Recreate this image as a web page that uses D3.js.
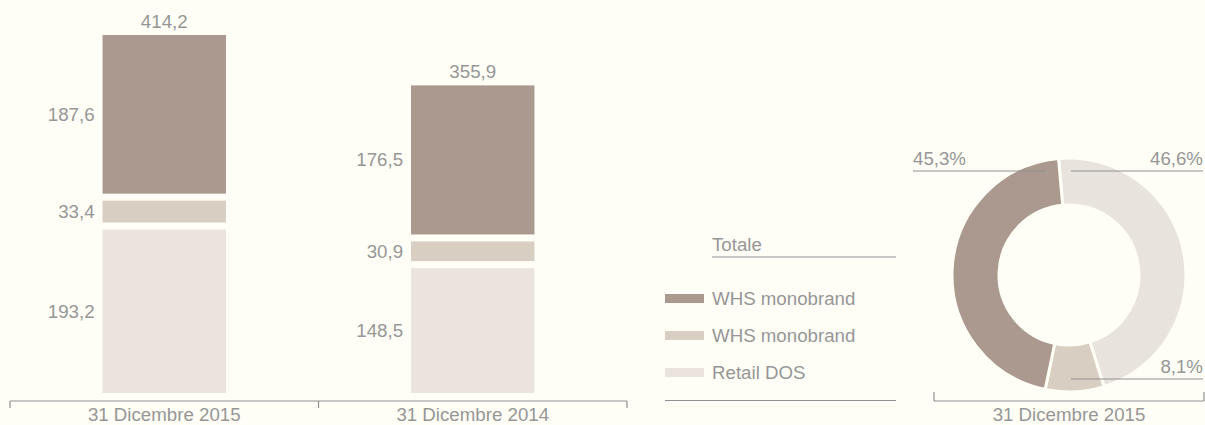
<!DOCTYPE html>
<html>
<head>
<meta charset="utf-8">
<script src="https://cdn.jsdelivr.net/npm/d3@7"></script>
<style>
  html, body { margin: 0; padding: 0; background: #fffef6; }
  svg text { font-family: "Liberation Sans", Arial, sans-serif; fill: #969696; }
</style>
</head>
<body>
<script>
// categories / series
let categories = ['31 Dicembre 2015', '31 Dicembre 2014']
let seriesNames = ['Retail DOS', 'WHS monobrand', 'WHS monobrand']
let retailDos = [193.2, 148.5]
let whsMid = [33.4, 30.9]
let whsTop = [187.6, 176.5]
let totals = [414.2, 355.9]

// donut (31 Dicembre 2015), order clockwise from top
let pieLabels = ['46,6%', '8,1%', '45,3%']
let pieValues = [46.6, 8.1, 45.3]
let pieCategory = '31 Dicembre 2015'

let colors = ['#ebe4dc', '#d8cec1', '#ab988e']
let pieColors = ['#e8e3dd', '#d8cec1', '#ab988e']
let lineColor = '#8f8f8f'
let bg = '#fffef6'

let width = 1205
let height = 425
let fontSize = 18.7

let svg = d3.select('body').append('svg')
  .attr('width', width)
  .attr('height', height)

/* Stacked bars */
let x = d3.scaleBand().domain(categories).range([10, 627])
let y = d3.scaleLinear().domain([0, d3.max(totals)]).range([393, 35])
let barW = x.bandwidth() * 0.4
let gap = 7

let rows = categories.map((c, i) => ({ cat: c, s0: retailDos[i], s1: whsMid[i], s2: whsTop[i], total: totals[i] }))
let stack = d3.stack().keys(['s0', 's1', 's2'])(rows)

let bars = svg.append('g').attr('class', 'bars')

stack.forEach((layer, li) => {
  let g = bars.append('g')
  layer.forEach((seg, ci) => {
    let bx = x(categories[ci]) + (x.bandwidth() - barW) / 2
    let top = y(seg[1]) + (li === stack.length - 1 ? 0 : gap / 2)
    let bottom = y(seg[0]) - (li === 0 ? 0 : gap / 2)
    g.append('rect')
      .attr('x', bx)
      .attr('y', top)
      .attr('width', barW)
      .attr('height', bottom - top)
      .style('fill', colors[li])
    g.append('text')
      .attr('x', bx - 8)
      .attr('y', (top + bottom) / 2)
      .attr('dy', '0.35em')
      .attr('text-anchor', 'end')
      .style('font-size', fontSize + 'px')
      .text(d3.format('.1f')(seg[1] - seg[0]).replace('.', ','))
  })
})

// totals above bars
bars.selectAll('.total')
  .data(rows)
  .enter().append('text')
  .attr('class', 'total')
  .attr('x', d => x(d.cat) + x.bandwidth() / 2)
  .attr('y', d => y(d.total) - 7)
  .attr('text-anchor', 'middle')
  .style('font-size', fontSize + 'px')
  .text(d => d3.format('.1f')(d.total).replace('.', ','))

// axis
let axisG = svg.append('g').attr('transform', 'translate(0, 401)')
axisG.append('line')
  .attr('x1', x.range()[0]).attr('x2', x.range()[1])
  .attr('y1', 0).attr('y2', 0)
  .style('stroke', lineColor).style('stroke-width', 1.2)
let tickXs = categories.map(c => x(c)).concat([x.range()[1]])
tickXs.forEach(t => {
  axisG.append('line')
    .attr('x1', t).attr('x2', t).attr('y1', 0).attr('y2', 7)
    .style('stroke', lineColor).style('stroke-width', 1.2)
})
categories.forEach(c => {
  axisG.append('text')
    .attr('x', x(c) + x.bandwidth() / 2)
    .attr('y', 20)
    .attr('text-anchor', 'middle')
    .style('font-size', fontSize + 'px')
    .text(c)
})

/* Legend */
let legend = svg.append('g').attr('class', 'legend')
legend.append('text')
  .attr('x', 712).attr('y', 244).attr('dy', '0.35em')
  .style('font-size', fontSize + 'px')
  .text('Totale')
legend.append('line')
  .attr('x1', 712).attr('x2', 896).attr('y1', 257).attr('y2', 257)
  .style('stroke', lineColor).style('stroke-width', 1.2)
let legendItems = [2, 1, 0]
legendItems.forEach((si, k) => {
  let ly = 298 + k * 37
  legend.append('rect')
    .attr('x', 665).attr('y', ly - 4).attr('width', 39).attr('height', 9)
    .style('fill', colors[si])
  legend.append('text')
    .attr('x', 712).attr('y', ly).attr('dy', '0.35em')
    .style('font-size', fontSize + 'px')
    .text(seriesNames[si])
})
legend.append('line')
  .attr('x1', 665).attr('x2', 896).attr('y1', 400.5).attr('y2', 400.5)
  .style('stroke', lineColor).style('stroke-width', 1.2)

/* Donut */
let cx = 1069
let cy = 275
let pie = d3.pie().sort(null).startAngle(-0.09).endAngle(2 * Math.PI - 0.09)
let arc = d3.arc().innerRadius(70).outerRadius(117)
let donut = svg.append('g').attr('transform', 'translate(' + cx + ',' + cy + ')')
donut.selectAll('path')
  .data(pie(pieValues))
  .enter().append('path')
  .attr('d', arc)
  .style('fill', (d, i) => pieColors[i])
  .style('stroke', bg)
  .style('stroke-width', 3)

// donut labels with leader lines
let pieLabelPos = [
  { x1: 1071, x2: 1203, ly: 171, anchor: 'end' },
  { x1: 1071, x2: 1203, ly: 379, anchor: 'end' },
  { x1: 913, x2: 1046, ly: 171, anchor: 'start' }
]
pieLabels.forEach((lab, i) => {
  let p = pieLabelPos[i]
  svg.append('line')
    .attr('x1', p.x1).attr('x2', p.x2).attr('y1', p.ly).attr('y2', p.ly)
    .style('stroke', lineColor).style('stroke-width', 1.2)
  svg.append('text')
    .attr('x', p.anchor === 'end' ? p.x2 : p.x1)
    .attr('y', p.ly - 13)
    .attr('dy', '0.35em')
    .attr('text-anchor', p.anchor)
    .style('font-size', fontSize + 'px')
    .text(lab)
})

// donut axis
let pAxis = svg.append('g').attr('transform', 'translate(0, 401)')
pAxis.append('line')
  .attr('x1', 934).attr('x2', 1204).attr('y1', 0).attr('y2', 0)
  .style('stroke', lineColor).style('stroke-width', 1.2)
;[934, 1204].forEach(t => {
  pAxis.append('line')
    .attr('x1', t).attr('x2', t).attr('y1', 0).attr('y2', -9)
    .style('stroke', lineColor).style('stroke-width', 1.2)
})
pAxis.append('text')
  .attr('x', 1069).attr('y', 20)
  .attr('text-anchor', 'middle')
  .style('font-size', fontSize + 'px')
  .text(pieCategory)
</script>
</body>
</html>
